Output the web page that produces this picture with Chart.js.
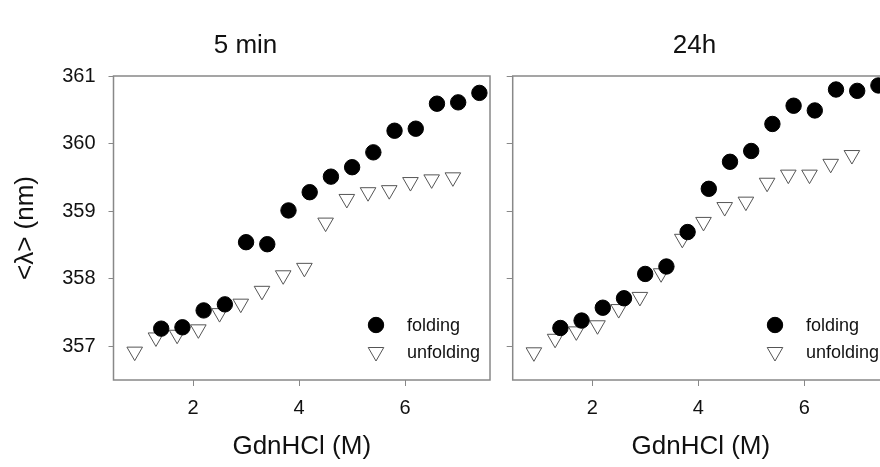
<!DOCTYPE html>
<html>
<head>
<meta charset="utf-8">
<script src="https://cdn.jsdelivr.net/npm/chart.js@4/dist/chart.umd.min.js"></script>
<style>
  html, body { margin: 0; padding: 0; background: #fff; overflow: hidden; width: 880px; height: 467px; }
  #c1 { position: absolute; left: 0; top: 0; }
  #c2 { position: absolute; left: 500px; top: 0; }
</style>
</head>
<body>
<canvas id="c1" width="500" height="467"></canvas>
<canvas id="c2" width="400" height="467"></canvas>
<script>
// ---- data ----
const panelTitles = ['5 min', '24h'];
const seriesLabels = ['folding', 'unfolding'];
const xFold = [1.4, 1.8, 2.2, 2.6, 3.0, 3.4, 3.8, 4.2, 4.6, 5.0, 5.4, 5.8, 6.2, 6.6, 7.0, 7.4];
const xUnfold = [0.9, 1.3, 1.7, 2.1, 2.5, 2.9, 3.3, 3.7, 4.1, 4.5, 4.9, 5.3, 5.7, 6.1, 6.5, 6.9];
const fold5min = [357.26, 357.28, 357.53, 357.62, 358.54, 358.51, 359.01, 359.28, 359.51, 359.65, 359.87, 360.19, 360.22, 360.59, 360.61, 360.75];
const unfold5min = [356.92, 357.13, 357.17, 357.25, 357.49, 357.63, 357.82, 358.05, 358.16, 358.83, 359.18, 359.28, 359.31, 359.43, 359.47, 359.50];
const fold24h = [357.27, 357.38, 357.57, 357.71, 358.07, 358.18, 358.69, 359.33, 359.73, 359.89, 360.29, 360.56, 360.49, 360.80, 360.78, 360.86];
const unfold24h = [356.91, 357.11, 357.22, 357.31, 357.55, 357.73, 358.08, 358.59, 358.84, 359.06, 359.14, 359.42, 359.54, 359.54, 359.70, 359.83];
const xTicks = [2, 4, 6];
const yTicks = [357, 358, 359, 360, 361];
const xRange = [0.5, 7.6];
const yRange = [356.5, 361];
const xTitle = 'GdnHCl (M)';
const yTitle = '<λ> (nm)';

const FONT = "'Liberation Sans', Arial, Helvetica, sans-serif";
const FRAME = '#888888';
const TEXT = '#111111';

const pts = (xs, ys) => xs.map((x, i) => ({ x: x, y: ys[i] }));

const framePlugin = {
  id: 'frame',
  beforeDatasetsDraw(chart) {
    const a = chart.chartArea, ctx = chart.ctx;
    ctx.save();
    ctx.strokeStyle = FRAME;
    ctx.lineWidth = 1.5;
    ctx.strokeRect(a.left, a.top, a.right - a.left, a.bottom - a.top);
    ctx.restore();
  }
};

function drawMarker(ctx, style, x, y, r, fill, stroke, bw) {
  ctx.save();
  ctx.beginPath();
  if (style === 'circle') {
    ctx.arc(x, y, r, 0, Math.PI * 2);
  } else {
    // downward triangle (rotation 180)
    for (let k = 0; k < 3; k++) {
      const ang = Math.PI + k * 2 * Math.PI / 3;
      const px = x + Math.sin(ang) * r, py = y - Math.cos(ang) * r;
      if (k === 0) ctx.moveTo(px, py); else ctx.lineTo(px, py);
    }
    ctx.closePath();
  }
  ctx.fillStyle = fill; ctx.fill();
  ctx.lineWidth = bw; ctx.strokeStyle = stroke; ctx.stroke();
  ctx.restore();
}

const legendPlugin = {
  id: 'innerLegend',
  afterDatasetsDraw(chart) {
    const a = chart.chartArea, ctx = chart.ctx;
    const mx = a.right - 114;
    const rows = [a.bottom - 55, a.bottom - 28];
    chart.data.datasets.forEach((ds, i) => {
      drawMarker(ctx, ds.pointStyle, mx, rows[i], ds.pointRadius, ds.backgroundColor, ds.borderColor, ds.borderWidth);
      ctx.save();
      ctx.fillStyle = TEXT;
      ctx.font = "18px " + FONT;
      ctx.textBaseline = 'middle';
      ctx.textAlign = 'left';
      ctx.fillText(ds.label, mx + 31, rows[i] + 1);
      ctx.restore();
    });
  }
};

function makeChart(id, title, foldY, unfoldY, isLeft) {
  return new Chart(document.getElementById(id), {
    type: 'scatter',
    data: {
      datasets: [
        { label: seriesLabels[0], data: pts(xFold, foldY), pointStyle: 'circle', pointRadius: 7.7,
          backgroundColor: '#000', borderColor: '#000', borderWidth: 1, clip: false },
        { label: seriesLabels[1], data: pts(xUnfold, unfoldY), pointStyle: 'triangle', pointRotation: 180,
          pointRadius: 9, backgroundColor: '#fff', borderColor: '#555', borderWidth: 1, clip: false }
      ]
    },
    options: {
      responsive: false,
      animation: false,
      devicePixelRatio: 1,
      layout: { padding: { left: 0, right: isLeft ? 9 : 11, top: 0, bottom: 0 } },
      plugins: {
        legend: { display: false },
        tooltip: { enabled: false },
        title: {
          display: true, text: title, color: TEXT,
          font: { family: FONT, size: 26, weight: 'normal', lineHeight: 1.2 },
          padding: { top: 30, bottom: 14.8 }
        }
      },
      scales: {
        x: {
          type: 'linear', position: 'bottom', min: xRange[0], max: xRange[1],
          afterBuildTicks: s => { s.ticks = xTicks.map(v => ({ value: v })); },
          afterFit: s => { s.height = 87; },
          grid: { drawOnChartArea: false, drawTicks: true, tickLength: 6, color: FRAME, lineWidth: 1 },
          border: { display: false },
          ticks: { color: TEXT, font: { family: FONT, size: 20 }, padding: 10, maxRotation: 0 },
          title: { display: true, text: xTitle, color: TEXT,
                   font: { family: FONT, size: 26, lineHeight: 1.2 }, padding: { top: 0, bottom: 4.4 } }
        },
        y: {
          type: 'linear', position: 'left', min: yRange[0], max: yRange[1],
          afterBuildTicks: s => { s.ticks = yTicks.map(v => ({ value: v })); },
          afterFit: s => { s.width = isLeft ? 113.5 : 12.7; },
          grid: { drawOnChartArea: false, drawTicks: true, tickLength: isLeft ? 5 : 6, color: FRAME, lineWidth: 1 },
          border: { display: false },
          ticks: { color: TEXT, font: { family: FONT, size: 20 }, padding: 13,
                   callback: v => isLeft ? String(v) : '' },
          title: { display: isLeft, text: yTitle, color: TEXT,
                   font: { family: FONT, size: 26, lineHeight: 1.2 }, padding: { top: 10, bottom: 0 } }
        }
      }
    },
    plugins: [framePlugin, legendPlugin]
  });
}

makeChart('c1', panelTitles[0], fold5min, unfold5min, true);
makeChart('c2', panelTitles[1], fold24h, unfold24h, false);
</script>
</body>
</html>
